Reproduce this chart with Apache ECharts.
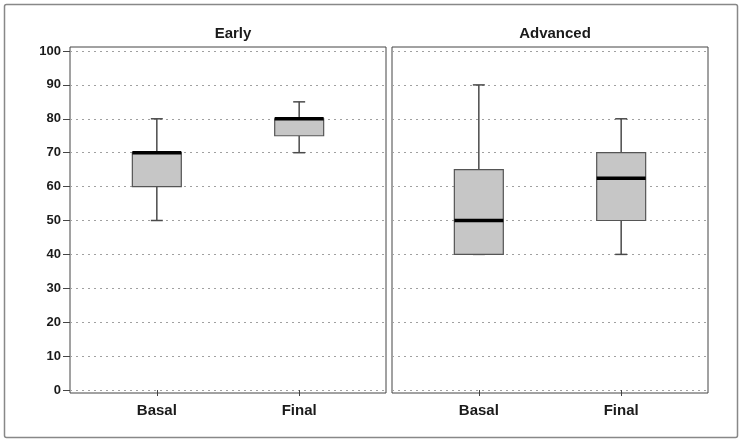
<!DOCTYPE html>
<html>
<head>
<meta charset="utf-8">
<script src="https://cdn.jsdelivr.net/npm/echarts@6/dist/echarts.min.js"></script>
<style>html,body{margin:0;padding:0;background:#fff}#c{width:748px;height:443px}</style>
</head>
<body>
<div id="c"></div>
<script>
const categories = ['Basal', 'Final'];
const panels = ['Early', 'Advanced'];
const earlyLow = [50, 70];
const earlyQ1 = [60, 75];
const earlyMedian = [70, 80];
const earlyQ3 = [70, 80];
const earlyHigh = [80, 85];
const advancedLow = [40, 40];
const advancedQ1 = [40, 50];
const advancedMedian = [50, 62.5];
const advancedQ3 = [65, 70];
const advancedHigh = [90, 80];
const yMin = 0, yMax = 100, yStep = 10;

function rows(lo, q1, md, q3, hi) {
  return categories.map((c, i) => [i + 1, lo[i], q1[i], md[i], q3[i], hi[i]]);
}

function renderBox(params, api) {
  const x = api.value(0);
  const pLo = api.coord([x, api.value(1)]);
  const pQ1 = api.coord([x, api.value(2)]);
  const pMd = api.coord([x, api.value(3)]);
  const pQ3 = api.coord([x, api.value(4)]);
  const pHi = api.coord([x, api.value(5)]);
  const bw = api.size([0.344, 0])[0];
  const cw = api.size([0.084, 0])[0];
  const cx = pLo[0];
  const wStyle = { stroke: '#4a4a4a', lineWidth: 1.5 };
  return {
    type: 'group',
    children: [
      { type: 'line', shape: { x1: cx, y1: pLo[1], x2: cx, y2: pQ1[1] }, style: wStyle },
      { type: 'line', shape: { x1: cx, y1: pQ3[1], x2: cx, y2: pHi[1] }, style: wStyle },
      { type: 'line', shape: { x1: cx - cw / 2, y1: pLo[1], x2: cx + cw / 2, y2: pLo[1] }, style: wStyle },
      { type: 'line', shape: { x1: cx - cw / 2, y1: pHi[1], x2: cx + cw / 2, y2: pHi[1] }, style: wStyle },
      { type: 'rect', shape: { x: cx - bw / 2, y: pQ3[1], width: bw, height: pQ1[1] - pQ3[1] },
        style: { fill: '#c6c6c6', stroke: '#555', lineWidth: 1.2 } },
      { type: 'line', shape: { x1: cx - bw / 2, y1: pMd[1], x2: cx + bw / 2, y2: pMd[1] },
        style: { stroke: '#000', lineWidth: 3.5 } }
    ]
  };
}

const dataGrids = [
  { left: 70, right: 362, top: 51, bottom: 53 },
  { left: 392, right: 40, top: 51, bottom: 53 }
];
const frameGrids = [
  { left: 70, right: 362, top: 47, bottom: 50, show: true, borderColor: '#444', borderWidth: 1, backgroundColor: 'transparent' },
  { left: 392, right: 40, top: 47, bottom: 50, show: true, borderColor: '#444', borderWidth: 1, backgroundColor: 'transparent' }
];

const xAxes = [], yAxes = [];
[0, 1].forEach(i => {
  xAxes.push({
    gridIndex: i, type: 'value', min: 0.39, max: 2.61, offset: 3,
    axisLine: { show: false },
    axisTick: { show: true, customValues: [1, 2], length: 6, lineStyle: { color: '#444', width: 1 } },
    axisLabel: { customValues: [1, 2], formatter: v => categories[Math.round(v) - 1] || '',
      fontFamily: 'Liberation Sans, Arial, sans-serif', fontWeight: 'bold', fontSize: 15, color: '#1a1a1a', margin: 10 },
    splitLine: { show: false }
  });
  yAxes.push({
    gridIndex: i, type: 'value', min: yMin, max: yMax, interval: yStep,
    axisLine: { show: false },
    axisTick: { show: i === 0, length: 7, lineStyle: { color: '#444', width: 1 } },
    axisLabel: { show: i === 0, fontFamily: 'Liberation Sans, Arial, sans-serif', fontWeight: 'bold', fontSize: 13, color: '#1a1a1a', margin: 9 },
    splitLine: { show: true, lineStyle: { color: '#a0a0a0', width: 1, type: [2, 4] } }
  });
});
[2, 3].forEach(i => {
  xAxes.push({ gridIndex: i, type: 'value', show: false, min: 0, max: 1 });
  yAxes.push({ gridIndex: i, type: 'value', show: false, min: 0, max: 1 });
});

const chart = echarts.init(document.getElementById('c'), null, { renderer: 'canvas' });
chart.setOption({
  animation: false,
  backgroundColor: '#fff',
  title: panels.map((p, i) => ({
    text: p, left: i === 0 ? 228 : 550, top: 21, textAlign: 'center',
    textStyle: { fontFamily: 'Liberation Sans, Arial, sans-serif', fontWeight: 'bold', fontSize: 15, color: '#1a1a1a' }
  })),
  graphic: [{
    type: 'rect', shape: { x: 4.5, y: 4.5, width: 733, height: 433, r: 2 },
    style: { fill: 'none', stroke: '#888', lineWidth: 1.5 }, silent: true
  }],
  grid: dataGrids.concat(frameGrids),
  xAxis: xAxes,
  yAxis: yAxes,
  series: [
    { type: 'custom', name: panels[0], xAxisIndex: 0, yAxisIndex: 0, renderItem: renderBox,
      encode: { x: 0, y: [1, 2, 3, 4, 5] }, data: rows(earlyLow, earlyQ1, earlyMedian, earlyQ3, earlyHigh), z: 5 },
    { type: 'custom', name: panels[1], xAxisIndex: 1, yAxisIndex: 1, renderItem: renderBox,
      encode: { x: 0, y: [1, 2, 3, 4, 5] }, data: rows(advancedLow, advancedQ1, advancedMedian, advancedQ3, advancedHigh), z: 5 }
  ]
});
</script>
</body>
</html>
